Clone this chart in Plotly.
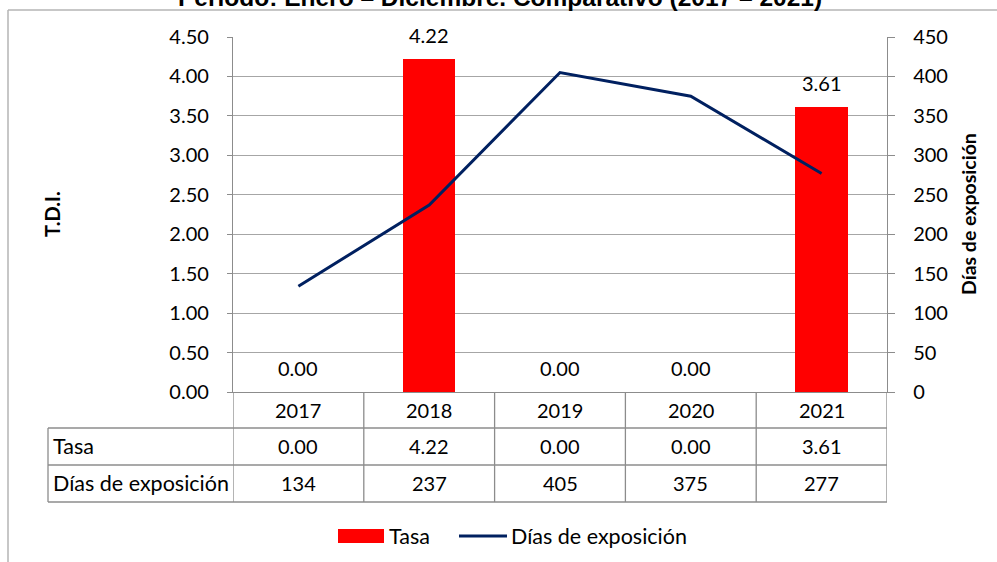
import plotly.graph_objects as go

# Data
years = ["2017", "2018", "2019", "2020", "2021"]
tasa = [0.00, 4.22, 0.00, 0.00, 3.61]
dias = [134, 237, 405, 375, 277]

row_names = ["Tasa", "Días de exposición"]
title_text = "Período: Enero – Diciembre. Comparativo (2017 – 2021)"

# Figure geometry helpers (pixel -> paper fraction)
W, H = 997, 562


def px(x):
    return x / W


def py(y):
    return 1 - y / H


FONT = "Lato"
BAR_RED = "#FF0000"
NAVY = "#002060"
GRID = "#A6A6A6"
AXIS = "#8C8C8C"
TXT = "#000000"

xs = list(range(len(years)))

fig = go.Figure()

fig.add_trace(go.Bar(
    x=xs, y=tasa, name="Tasa", marker=dict(color=BAR_RED, line=dict(width=0)),
    width=0.4, yaxis="y", showlegend=False,
))
fig.add_trace(go.Scatter(
    x=xs, y=dias, name="Días de exposición", mode="lines",
    line=dict(color=NAVY, width=3), yaxis="y2", showlegend=False,
))

annotations = []
shapes = []

# Value labels above bars
for i, v in enumerate(tasa):
    annotations.append(dict(
        x=i, y=v, xref="x", yref="y", text=f"{v:.2f}", showarrow=False,
        yanchor="bottom", yshift=10, font=dict(family=FONT, size=20, color=TXT),
    ))

# Data table under the plot
row_y = [410, 446, 483]
for i, yr in enumerate(years):
    annotations.append(dict(
        x=i, y=py(row_y[0]), xref="x", yref="paper", text=yr, showarrow=False,
        yanchor="middle", font=dict(family=FONT, size=20, color=TXT),
    ))
    annotations.append(dict(
        x=i, y=py(row_y[1]), xref="x", yref="paper", text=f"{tasa[i]:.2f}",
        showarrow=False, yanchor="middle", font=dict(family=FONT, size=20, color=TXT),
    ))
    annotations.append(dict(
        x=i, y=py(row_y[2]), xref="x", yref="paper", text=f"{dias[i]}",
        showarrow=False, yanchor="middle", font=dict(family=FONT, size=20, color=TXT),
    ))
for name, yy in zip(row_names, row_y[1:]):
    annotations.append(dict(
        x=px(51), y=py(yy), xref="paper", yref="paper", text=name, showarrow=False,
        xanchor="left", yanchor="middle", font=dict(family=FONT, size=21.5, color=TXT),
    ))

line_style = dict(color=AXIS, width=1.3)
# column separators
for k in range(len(years) + 1):
    shapes.append(dict(type="line", xref="x", yref="paper", x0=k - 0.5, x1=k - 0.5,
                       y0=py(392), y1=py(502), line=line_style))
# row separators
for yy in (428, 465, 502):
    shapes.append(dict(type="line", xref="paper", yref="paper", x0=px(48), x1=px(887),
                       y0=py(yy), y1=py(yy), line=line_style))
shapes.append(dict(type="line", xref="paper", yref="paper", x0=px(48), x1=px(48),
                   y0=py(428), y1=py(502), line=line_style))

# Outer frame (top and left edges)
frame = dict(color="#B4B4B4", width=1.5)
shapes.append(dict(type="line", xref="paper", yref="paper", x0=px(8), x1=1,
                   y0=py(10), y1=py(10), line=frame))
shapes.append(dict(type="line", xref="paper", yref="paper", x0=px(8), x1=px(8),
                   y0=py(10), y1=0, line=frame))

# Legend
shapes.append(dict(type="rect", xref="paper", yref="paper", x0=px(338), x1=px(384),
                   y0=py(543), y1=py(529), fillcolor=BAR_RED, line=dict(width=0)))
shapes.append(dict(type="line", xref="paper", yref="paper", x0=px(459), x1=px(507),
                   y0=py(536), y1=py(536), line=dict(color=NAVY, width=3)))
annotations.append(dict(x=px(387), y=py(536), xref="paper", yref="paper", text="Tasa",
                        showarrow=False, xanchor="left", yanchor="middle",
                        font=dict(family=FONT, size=21.5, color=TXT)))
annotations.append(dict(x=px(509), y=py(536), xref="paper", yref="paper",
                        text="Días de exposición", showarrow=False, xanchor="left",
                        yanchor="middle", font=dict(family=FONT, size=21.5, color=TXT)))

# Axis titles
annotations.append(dict(x=px(52), y=py(214), xref="paper", yref="paper", text="<b>T.D.I.</b>",
                        showarrow=False, textangle=-90, xanchor="center", yanchor="middle",
                        font=dict(family=FONT, size=20, color=TXT)))
annotations.append(dict(x=px(968), y=py(214), xref="paper", yref="paper",
                        text="<b>Días de exposición</b>", showarrow=False, textangle=-90,
                        xanchor="center", yanchor="middle",
                        font=dict(family=FONT, size=19.5, color=TXT)))

# Chart title (top part runs off the canvas)
annotations.append(dict(x=px(500), y=py(13), xref="paper", yref="paper",
                        text=f"<b>{title_text}</b>", showarrow=False, xanchor="center",
                        yanchor="bottom",
                        font=dict(family="Liberation Sans", size=24.5, color=TXT)))

fig.update_layout(
    width=W, height=H,
    margin=dict(l=0, r=0, t=0, b=0),
    paper_bgcolor="white", plot_bgcolor="white",
    bargap=0,
    xaxis=dict(
        domain=[px(233), px(887)], range=[-0.5, 4.5], showticklabels=False,
        showgrid=False, zeroline=False, showline=True, linecolor=AXIS, linewidth=1.3,
        ticks="", fixedrange=True, automargin=False,
    ),
    yaxis=dict(
        domain=[py(392), py(37)], range=[0, 4.5], dtick=0.5, tick0=0,
        tickformat=".2f", showgrid=True, gridcolor=GRID, gridwidth=1.3,
        zeroline=False, showline=True, linecolor=AXIS, linewidth=1.3,
        ticks="outside", ticklen=5, tickcolor=AXIS, tickwidth=1.3,
        ticklabelstandoff=14, automargin=False,
        tickfont=dict(family=FONT, size=20, color=TXT),
    ),
    yaxis2=dict(
        overlaying="y", side="right", anchor="x", range=[0, 450], dtick=50, tick0=0,
        showgrid=False, zeroline=False, showline=True, linecolor=AXIS, linewidth=1.3,
        ticks="outside", ticklen=7, tickcolor=AXIS, tickwidth=1.3,
        ticklabelstandoff=14, automargin=False,
        tickfont=dict(family=FONT, size=20, color=TXT),
    ),
    annotations=annotations,
    shapes=shapes,
)

fig.write_html("out.html")
